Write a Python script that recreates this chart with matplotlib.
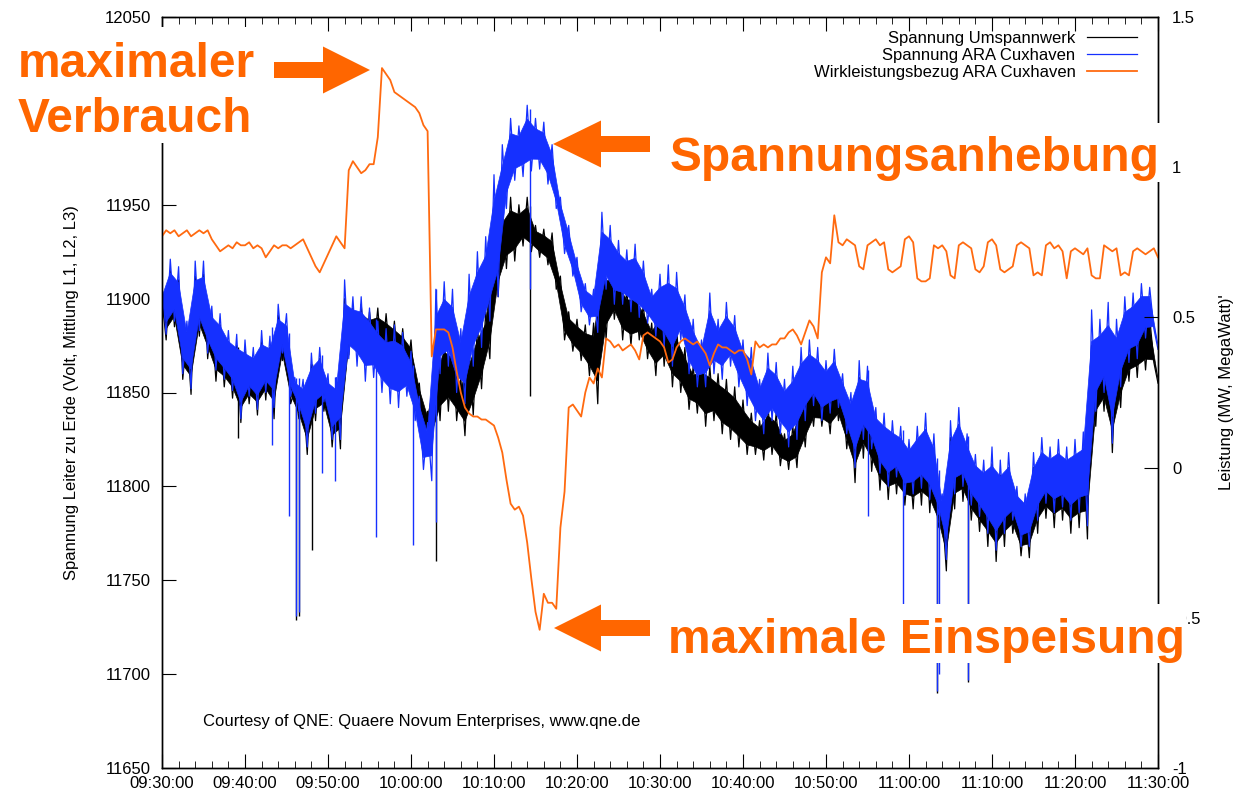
import numpy as np
import matplotlib
matplotlib.use("Agg")
import matplotlib.pyplot as plt
from matplotlib.patches import Polygon, Rectangle

plt.rcParams["font.family"] = ["Liberation Sans", "DejaVu Sans"]
plt.rcParams["font.size"] = 12

# time axis: minutes after 09:30:00
tick_minutes = [0, 10, 20, 30, 40, 50, 60, 70, 80, 90, 100, 110, 120]
tick_labels = ["09:30:00", "09:40:00", "09:50:00", "10:00:00", "10:10:00", "10:20:00",
               "10:30:00", "10:40:00", "10:50:00", "11:00:00", "11:10:00", "11:20:00", "11:30:00"]

# voltage (V) noise band: upper edge read at full minutes, lower edge at half minutes
blue_hi = [11906, 11921, 11917, 11888, 11920, 11920, 11896, 11892, 11883, 11881,
           11878, 11874, 11883, 11880, 11897, 11892, 11858, 11857, 11871, 11874,
           11860, 11858, 11910, 11901, 11901, 11895, 11888, 11884, 11886, 11882,
           11872, 11848, 11834, 11905, 11909, 11905, 11884, 11913, 11925, 11933,
           11966, 11982, 11996, 11992, 12003, 11996, 11994, 11982, 11954, 11939,
           11922, 11908, 11905, 11946, 11939, 11931, 11926, 11929, 11920, 11905,
           11913, 11918, 11914, 11902, 11889, 11878, 11903, 11889, 11898, 11891,
           11878, 11874, 11857, 11871, 11866, 11857, 11864, 11874, 11878, 11874,
           11867, 11873, 11860, 11850, 11867, 11864, 11842, 11839, 11835, 11832,
           11825, 11832, 11839, 11828, 11796, 11835, 11842, 11828, 11817, 11814,
           11821, 11814, 11818, 11800, 11796, 11818, 11826, 11821, 11825, 11821,
           11825, 11829, 11894, 11889, 11898, 11889, 11901, 11903, 11908, 11906,
           11873]
blue_lo = [11881, 11888, 11860, 11852, 11883, 11871, 11862, 11857, 11851, 11836,
           11848, 11841, 11850, 11842, 11871, 11848, 11840, 11821, 11839, 11845,
           11825, 11825, 11868, 11864, 11856, 11858, 11850, 11844, 11842, 11848,
           11835, 11809, 11803, 11860, 11864, 11850, 11844, 11864, 11874, 11888,
           11901, 11948, 11963, 11965, 11968, 11969, 11961, 11948, 11924, 11912,
           11893, 11886, 11882, 11905, 11897, 11897, 11893, 11890, 11887, 11880,
           11874, 11864, 11878, 11860, 11853, 11853, 11860, 11857, 11864, 11853,
           11843, 11835, 11828, 11835, 11828, 11821, 11825, 11835, 11843, 11835,
           11839, 11842, 11828, 11810, 11825, 11820, 11807, 11800, 11805, 11795,
           11796, 11799, 11793, 11785, 11761, 11796, 11800, 11790, 11784, 11775,
           11766, 11775, 11782, 11768, 11768, 11782, 11791, 11786, 11789, 11782,
           11786, 11779, 11840, 11850, 11823, 11853, 11866, 11868, 11879, 11884]
black_hi = [11900, 11915, 11910, 11882, 11912, 11913, 11890, 11886, 11877, 11875,
            11872, 11868, 11877, 11874, 11891, 11885, 11852, 11850, 11865, 11868,
            11855, 11850, 11900, 11895, 11897, 11893, 11895, 11892, 11888, 11884,
            11878, 11855, 11840, 11868, 11880, 11876, 11858, 11872, 11886, 11893,
            11935, 11948, 11954, 11950, 11954, 11939, 11937, 11935, 11912, 11893,
            11889, 11886, 11887, 11922, 11916, 11912, 11905, 11905, 11897, 11887,
            11896, 11892, 11885, 11874, 11864, 11867, 11864, 11860, 11857, 11853,
            11846, 11839, 11835, 11843, 11839, 11828, 11832, 11846, 11853, 11857,
            11850, 11860, 11850, 11842, 11858, 11855, 11834, 11830, 11826, 11824,
            11817, 11824, 11830, 11820, 11788, 11826, 11833, 11820, 11808, 11806,
            11812, 11806, 11810, 11792, 11788, 11810, 11817, 11813, 11817, 11812,
            11816, 11820, 11875, 11872, 11882, 11873, 11885, 11888, 11892, 11890,
            11855]
black_lo = [11878, 11885, 11857, 11849, 11880, 11868, 11856, 11853, 11847, 11834,
            11844, 11838, 11846, 11836, 11867, 11844, 11836, 11817, 11835, 11840,
            11821, 11820, 11870, 11872, 11868, 11872, 11866, 11866, 11862, 11860,
            11850, 11828, 11822, 11835, 11840, 11835, 11827, 11838, 11852, 11868,
            11901, 11916, 11920, 11928, 11925, 11922, 11918, 11905, 11878, 11872,
            11867, 11859, 11844, 11878, 11889, 11878, 11875, 11878, 11868, 11859,
            11864, 11853, 11850, 11841, 11839, 11832, 11835, 11828, 11825, 11821,
            11817, 11817, 11814, 11817, 11811, 11809, 11810, 11821, 11832, 11832,
            11828, 11835, 11820, 11802, 11815, 11808, 11798, 11793, 11796, 11790,
            11788, 11790, 11786, 11778, 11755, 11788, 11792, 11782, 11776, 11768,
            11760, 11768, 11775, 11763, 11762, 11775, 11783, 11778, 11782, 11775,
            11778, 11772, 11832, 11840, 11818, 11842, 11856, 11858, 11862, 11866]

# single downward spikes (minute, lowest voltage)
blue_spike_t = [13.3, 15.3, 16.2, 16.5, 19.3, 20.9, 25.8, 30.3, 33.0, 44.3, 85.1, 89.3, 93.4, 93.6, 97.1]
blue_spike_v = [11822, 11784, 11731, 11733, 11807, 11803, 11773, 11769, 11781, 11905, 11784, 11730, 11691, 11700, 11697]
black_spike_t = [9.2, 16.2, 16.5, 18.1, 33.0, 44.3, 93.4, 97.1]
black_spike_v = [11826, 11729, 11731, 11766, 11760, 11848, 11690, 11696]

# active power (MW), every 30 s
power = [0.77, 0.79, 0.78, 0.79, 0.77, 0.78, 0.79, 0.77, 0.78, 0.79, 0.78, 0.79, 0.76, 0.74, 0.72, 0.73, 0.74, 0.73, 0.75, 0.74,
         0.74, 0.75, 0.73, 0.74, 0.73, 0.70, 0.72, 0.74, 0.73, 0.74, 0.74, 0.73, 0.74, 0.75, 0.76, 0.73, 0.70, 0.67, 0.65, 0.68,
         0.71, 0.74, 0.77, 0.75, 0.73, 0.99, 1.02, 1.00, 0.98, 0.99, 1.01, 1.01, 1.10, 1.33, 1.31, 1.29, 1.25, 1.24, 1.23, 1.22,
         1.21, 1.20, 1.18, 1.14, 1.12, 0.37, 0.46, 0.46, 0.46, 0.45, 0.40, 0.32, 0.25, 0.20, 0.18, 0.17, 0.17, 0.16, 0.16, 0.15,
         0.14, 0.10, 0.05, -0.04, -0.12, -0.14, -0.13, -0.16, -0.25, -0.37, -0.48, -0.54, -0.42, -0.45, -0.45, -0.47, -0.20, -0.08, 0.20, 0.21,
         0.19, 0.17, 0.25, 0.30, 0.28, 0.33, 0.30, 0.43, 0.42, 0.40, 0.41, 0.39, 0.40, 0.41, 0.39, 0.36, 0.44, 0.45, 0.44, 0.43,
         0.42, 0.40, 0.35, 0.36, 0.40, 0.42, 0.43, 0.42, 0.41, 0.42, 0.40, 0.38, 0.34, 0.38, 0.41, 0.40, 0.40, 0.39, 0.38, 0.39,
         0.39, 0.36, 0.31, 0.42, 0.40, 0.41, 0.40, 0.41, 0.41, 0.43, 0.43, 0.45, 0.46, 0.44, 0.41, 0.45, 0.49, 0.47, 0.43, 0.65,
         0.70, 0.68, 0.84, 0.75, 0.74, 0.76, 0.75, 0.74, 0.67, 0.66, 0.74, 0.75, 0.76, 0.74, 0.75, 0.66, 0.65, 0.66, 0.67, 0.76,
         0.77, 0.75, 0.63, 0.62, 0.62, 0.63, 0.74, 0.73, 0.74, 0.72, 0.64, 0.63, 0.74, 0.75, 0.74, 0.73, 0.66, 0.65, 0.67, 0.75,
         0.76, 0.74, 0.66, 0.65, 0.66, 0.67, 0.74, 0.75, 0.74, 0.73, 0.64, 0.65, 0.64, 0.74, 0.75, 0.73, 0.74, 0.72, 0.63, 0.72,
         0.73, 0.72, 0.71, 0.73, 0.64, 0.63, 0.63, 0.74, 0.73, 0.72, 0.73, 0.64, 0.65, 0.64, 0.72, 0.73, 0.72, 0.71, 0.72, 0.73,
         0.70]

W, H = 1237, 795


def fx(px):
    return px / W


def fy(py):
    return 1 - py / H


def band(a, hi, lo, spike_t, spike_v, color, label):
    hi = np.asarray(hi, float)
    lo = np.asarray(lo, float)
    t_hi = np.arange(len(hi))
    t_lo = np.arange(len(lo)) + 0.5
    # solid core of the noise band, the zigzag supplies the ragged margins
    lo_at_hi = np.interp(t_hi, t_lo, lo)
    hi_at_lo = np.interp(t_lo, t_hi, hi)
    core_top = hi - 0.2 * (hi - lo_at_hi)
    core_bot = lo + 0.2 * (hi_at_lo - lo)
    a.fill(np.concatenate([t_hi, t_lo[::-1]]), np.concatenate([core_top, core_bot[::-1]]),
           color=color, lw=0.5, zorder=2)
    zt = np.empty(len(hi) + len(lo))
    zv = np.empty(len(hi) + len(lo))
    zt[0::2], zt[1::2] = t_hi, t_lo
    zv[0::2], zv[1::2] = hi, lo
    line, = a.plot(zt, zv, color=color, lw=0.9, label=label, zorder=2)
    a.vlines(spike_t, spike_v, np.interp(spike_t, t_hi, hi), color=color, lw=1.0, zorder=2)
    return line


fig = plt.figure(figsize=(W / 100, H / 100), dpi=100)
ax = fig.add_axes([fx(162), fy(768), fx(1158) - fx(162), fy(17) - fy(768)])

l1 = band(ax, black_hi, black_lo, black_spike_t, black_spike_v, "black", "Spannung Umspannwerk")
l2 = band(ax, blue_hi, blue_lo, blue_spike_t, blue_spike_v, "#1530ff", "Spannung ARA Cuxhaven")
ax.set_xlim(0, 120)
ax.set_ylim(11650, 12050)
ax.set_xticks(tick_minutes)
ax.set_xticklabels(tick_labels)
ax.set_xticks(np.arange(0, 121, 2), minor=True)
ax.set_yticks(np.arange(11650, 12051, 50))
# the 12000 label sits under the callout box in the original
ax.set_yticklabels(["11650", "11700", "11750", "11800", "11850", "11900", "11950", "", "12050"])
ax.tick_params(which="major", direction="in", length=10, top=True, right=False)
ax.tick_params(which="minor", direction="in", length=5, top=True, right=False)
ax.tick_params(axis="x", pad=6)
ax.tick_params(axis="y", pad=8)
ax.set_ylabel("Spannung Leiter zu Erde (Volt, Mittlung L1, L2, L3)")
ax.yaxis.set_label_coords(-0.083, 0.5)

ax2 = ax.twinx()
l3, = ax2.plot(np.arange(len(power)) * 0.5, power, color="#ff6a10", lw=1.3,
               label="Wirkleistungsbezug ARA Cuxhaven")
ax2.set_ylim(-1, 1.5)
ax2.set_yticks([-1, -0.5, 0, 0.5, 1, 1.5])
ax2.set_yticklabels(["-1", "-0.5", "0", "0.5", "1", "1.5"])
ax2.tick_params(direction="in", length=10, pad=10)
ax2.set_ylabel("Leistung (MW, MegaWatt)'")
ax2.yaxis.set_label_coords(1.061, 0.5)

for a in (ax, ax2):
    for s in a.spines.values():
        s.set_linewidth(1.0)

ax2.legend(handles=[l1, l2, l3], loc="upper right", bbox_to_anchor=(0.979, 0.981),
           frameon=False, markerfirst=False, handlelength=3.0, handletextpad=0.7,
           labelspacing=0.1, borderpad=0, borderaxespad=0, fontsize=12)

fig.text(fx(203), fy(726), "Courtesy of QNE: Quaere Novum Enterprises, www.qne.de",
         fontsize=12, va="baseline")

# white boxes behind the callouts
for x0, y0, x1, y1 in [(0, 27, 255, 143), (665, 123, 1163, 182), (665, 604, 1186, 663)]:
    fig.patches.append(Rectangle((fx(x0), fy(y1)), fx(x1) - fx(x0), fy(y0) - fy(y1),
                                 transform=fig.transFigure, facecolor="white",
                                 edgecolor="none", zorder=5))

orange = "#ff6600"
big = dict(fontsize=34.5, fontweight="bold", color=orange, va="baseline", zorder=6)
fig.text(fx(18), fy(77), "maximaler", **big)
fig.text(fx(18), fy(132), "Verbrauch", **big)
fig.text(fx(670), fy(171), "Spannungsanhebung", **big)
fig.text(fx(668), fy(653), "maximale Einspeisung", **big)


def arrow(tip_x, tip_y, base_x, tail_x, head_half, shaft_half):
    pts = [(tip_x, tip_y), (base_x, tip_y - head_half), (base_x, tip_y - shaft_half),
           (tail_x, tip_y - shaft_half), (tail_x, tip_y + shaft_half),
           (base_x, tip_y + shaft_half), (base_x, tip_y + head_half)]
    fig.patches.append(Polygon([(fx(x), fy(y)) for x, y in pts], closed=True,
                               transform=fig.transFigure, facecolor=orange,
                               edgecolor="none", zorder=6))


arrow(370, 70, 323, 274, 23.5, 8)
arrow(553, 144, 601, 650, 23.5, 8)
arrow(554, 628, 601, 650, 23.5, 8)

fig.savefig("out.png", dpi=100)
